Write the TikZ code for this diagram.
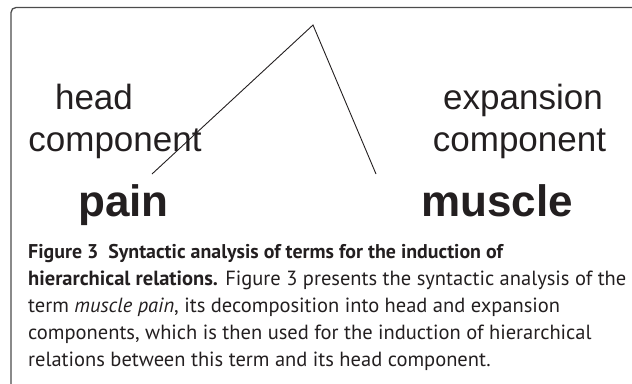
\documentclass[tikz,border=0pt]{standalone}
\usepackage{fontspec}
\setmainfont{Liberation Sans}
\newfontfamily\capfont{PT Sans}
\definecolor{ink}{RGB}{35,31,32}
\begin{document}
\begin{tikzpicture}[x=1pt,y=-1pt,
  lbl/.style={inner sep=0pt,text=ink,font=\fontsize{35}{42}\selectfont},
  word/.style={inner sep=0pt,text=ink,font=\fontsize{44}{50}\selectfont\bfseries},
  capline/.style={anchor=base west,inner sep=0pt,text=ink,font=\capfont\fontsize{20.5}{27}\selectfont},
  branch/.style={draw=ink,line width=0.9pt},
  frame/.style={draw=black!70,line width=1.3pt,rounded corners=5pt}]
\useasboundingbox (0,0) rectangle (632,383);
\draw[frame] (11,390) -- (11,7.5) -- (640,7.5);
\coordinate (apex) at (313,25);
\coordinate (lend) at (152,174);
\coordinate (rend) at (376,174);
\draw[branch] (lend) -- (apex) -- (rend);
\node[lbl,anchor=base] (head) at (94,109) {head};
\node[lbl,anchor=base] (headc) at (115,151) {component};
\node[lbl,anchor=base] (exp) at (523,109) {expansion};
\node[lbl,anchor=base] (expc) at (519.5,151) {component};
\node[word,anchor=base west] (pain) at (78,216) {pain};
\node[word,anchor=base west] (muscle) at (421,216) {muscle};
\node[capline,font=\capfont\fontsize{19.9}{27}\selectfont\bfseries] (c1) at (28,258) {Figure 3\enspace Syntactic analysis of terms for the induction of};
\node[capline] (c2) at (28,285.5) {\textbf{hierarchical relations.} Figure 3 presents the syntactic analysis of the};
\node[capline] (c3) at (28,312.5) {term \textit{muscle pain}, its decomposition into head and expansion};
\node[capline] (c4) at (28,339.5) {components, which is then used for the induction of hierarchical};
\node[capline] (c5) at (28,366) {relations between this term and its head component.};
\end{tikzpicture}
\end{document}
